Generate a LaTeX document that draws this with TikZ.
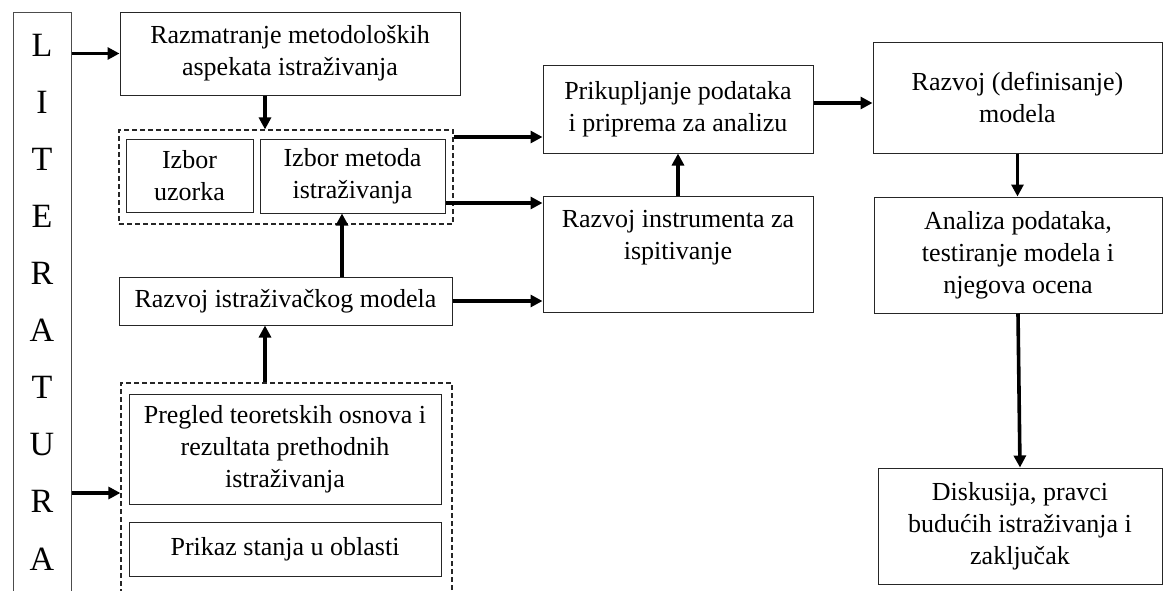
\documentclass[tikz,border=0pt]{standalone}
\usepackage{fontspec}
\setmainfont{Liberation Serif}
\usetikzlibrary{arrows.meta}
\begin{document}
\begin{tikzpicture}[x=1pt,y=-1pt,
  box/.style={draw=black!85, line width=1pt, inner sep=0pt, align=center, font=\fontsize{26}{32}\selectfont},
  txt/.style={inner sep=0pt, align=center, font=\fontsize{26}{32}\selectfont},
  dbox/.style={draw=black!85, line width=1.2pt, dash pattern=on 5pt off 3pt, inner sep=0pt},
  arr/.style={line width=3.6pt, -{Triangle[length=12pt,width=12pt]}},
  letter/.style={font=\fontsize{34}{34}\selectfont, inner sep=0pt}]
\useasboundingbox (0,0) rectangle (1163,590);
\clip (0,0) rectangle (1163,590);
% helper coordinates
\coordinate (x265) at (265,0);
\coordinate (x342) at (342,0);
\coordinate (y137) at (0,137);
\coordinate (y203) at (0,203);
\coordinate (y103) at (0,103);
\coordinate (y493) at (0,493);
% LITERATURA column
\node[draw=black!70, line width=1pt, minimum width=58, minimum height=640, inner sep=0pt] (lit) at (42,332) {};
\foreach \l [count=\i from 0] in {L,I,T,E,R,A,T,U,R,A}
  \node[letter] (let\i) at (42,45+57.1*\i) {\l};
% left column
\node[box, minimum width=340, minimum height=83] (raz) at (290,53.5) {Razmatranje metodoloških\\aspekata istraživanja};
\node[dbox, minimum width=334, minimum height=94] (dash1) at (286,177) {};
\node[box, minimum width=127, minimum height=73] (uzorak) at (189.5,175.5) {Izbor\\uzorka};
\node[box, minimum width=185, minimum height=74] (metoda) at (352.5,176) {Izbor metoda\\istraživanja};
\node[box, minimum width=333, minimum height=48] (ist) at (285.5,301) {Razvoj istraživačkog modela};
\node[dbox, minimum width=331, minimum height=260] (dash2) at (286.5,513) {};
\node[box, minimum width=312, minimum height=110] (pregled) at (285,449) {Pregled teoretskih osnova i\\rezultata prethodnih\\istraživanja};
\node[box, minimum width=312, minimum height=54] (prikaz) at (285,549) {Prikaz stanja u oblasti};
% middle column
\node[box, minimum width=270, minimum height=88] (prik) at (678,109) {Prikupljanje podataka\\i priprema za analizu};
\node[box, minimum width=270, minimum height=116] (instr) at (678,254) {};
\node[txt] (instrtxt) at (678,238) {Razvoj instrumenta za\\ispitivanje};
% right column
\node[box, minimum width=289, minimum height=111] (def) at (1017.5,97.5) {Razvoj (definisanje)\\modela};
\node[box, minimum width=288, minimum height=116] (anal) at (1018,255) {Analiza podataka,\\testiranje modela i\\njegova ocena};
\node[box, minimum width=284, minimum height=116] (disk) at (1020,526) {Diskusija, pravci\\budućih istraživanja i\\zaključak};
% connectors
\draw[arr] (raz.west -| lit.east) -- (raz.west);
\draw[arr] (lit.east |- y493) -- (dash2.west |- y493);
\draw[arr] (raz.south -| x265) -- (dash1.north -| x265);
\draw[arr] (dash1.east |- y137) -- (prik.west |- y137);
\draw[arr] (metoda.east |- y203) -- (instr.west |- y203);
\draw[arr] (ist.east) -- (ist.east -| instr.west);
\draw[arr] (ist.north -| x342) -- (metoda.south -| x342);
\draw[arr] (dash2.north -| x265) -- (ist.south -| x265);
\draw[arr] (instr.north) -- (prik.south);
\draw[arr] (prik.east |- y103) -- (def.west |- y103);
\draw[arr] (def.south) -- (def.south |- anal.north);
\draw[arr] (anal.south) -- (disk.north);
\end{tikzpicture}
\end{document}
